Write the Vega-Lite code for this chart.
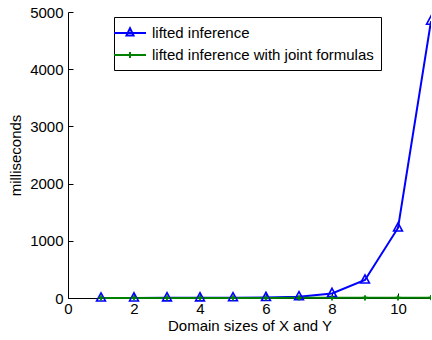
{
  "$schema": "https://vega.github.io/schema/vega-lite/v6.json",
  "autosize": "none",
  "width": 363,
  "height": 286,
  "padding": {"left": 68, "top": 12, "right": 0, "bottom": 42},
  "background": "white",
  "data": {"values": [
    {"size": 1, "ms": 1, "series": "lifted inference"},
    {"size": 2, "ms": 2, "series": "lifted inference"},
    {"size": 3, "ms": 3, "series": "lifted inference"},
    {"size": 4, "ms": 4, "series": "lifted inference"},
    {"size": 5, "ms": 5, "series": "lifted inference"},
    {"size": 6, "ms": 10, "series": "lifted inference"},
    {"size": 7, "ms": 22, "series": "lifted inference"},
    {"size": 8, "ms": 80, "series": "lifted inference"},
    {"size": 9, "ms": 315, "series": "lifted inference"},
    {"size": 10, "ms": 1225, "series": "lifted inference"},
    {"size": 11, "ms": 4840, "series": "lifted inference"},
    {"size": 1, "ms": 0.5, "series": "lifted inference with joint formulas"},
    {"size": 2, "ms": 1, "series": "lifted inference with joint formulas"},
    {"size": 3, "ms": 1, "series": "lifted inference with joint formulas"},
    {"size": 4, "ms": 1.5, "series": "lifted inference with joint formulas"},
    {"size": 5, "ms": 2, "series": "lifted inference with joint formulas"},
    {"size": 6, "ms": 2, "series": "lifted inference with joint formulas"},
    {"size": 7, "ms": 3, "series": "lifted inference with joint formulas"},
    {"size": 8, "ms": 3, "series": "lifted inference with joint formulas"},
    {"size": 9, "ms": 4, "series": "lifted inference with joint formulas"},
    {"size": 10, "ms": 4, "series": "lifted inference with joint formulas"},
    {"size": 11, "ms": 5, "series": "lifted inference with joint formulas"}
  ]},
  "config": {
    "view": {"stroke": null},
    "font": "Liberation Sans",
    "axis": {
      "domainColor": "black",
      "domainWidth": 1,
      "tickColor": "black",
      "tickSize": -5,
      "labelColor": "black",
      "labelFont": "Liberation Sans",
      "labelFontSize": 15,
      "titleFont": "Liberation Sans",
      "titleFontSize": 15,
      "titleFontWeight": "normal",
      "titleColor": "black",
      "grid": false,
      "format": "d"
    },
    "legend": {
      "labelFont": "Liberation Sans",
      "labelFontSize": 15,
      "labelColor": "black",
      "labelLimit": 400
    }
  },
  "layer": [
    {
      "transform": [{"filter": "datum.series === 'lifted inference'"}],
      "mark": {"type": "line", "strokeWidth": 2, "color": "#0000ff", "clip": false},
      "encoding": {
        "x": {"field": "size", "type": "quantitative",
              "scale": {"domain": [0, 11], "nice": false},
              "axis": {"orient": "bottom", "values": [0, 2, 4, 6, 8, 10], "title": "Domain sizes of X and Y", "labelPadding": 8, "titlePadding": 2, "labelFlush": false}},
        "y": {"field": "ms", "type": "quantitative",
              "scale": {"domain": [0, 5000], "nice": false},
              "axis": {"orient": "left", "values": [0, 1000, 2000, 3000, 4000, 5000], "title": "milliseconds", "labelPadding": 10, "titlePadding": 6, "labelFlush": false}}
      }
    },
    {
      "layer": [
        {
          "transform": [{"filter": "datum.series !== 'lifted inference'"}],
          "mark": {"type": "line", "strokeWidth": 2, "color": "#008000", "clip": false},
          "encoding": {
            "x": {"field": "size", "type": "quantitative",
                  "axis": {"orient": "top", "values": [0, 2, 4, 6, 8, 10], "labels": false, "title": null}},
            "y": {"field": "ms", "type": "quantitative",
                  "axis": {"orient": "right", "values": [0, 1000, 2000, 3000, 4000, 5000], "labels": false, "title": null}}
          }
        },
        {
          "transform": [{"filter": "datum.series === 'lifted inference'"}],
          "mark": {"type": "point", "filled": false, "strokeWidth": 1.6, "opacity": 1, "color": "#0000ff", "shape": "M0,-1L0.866,0.6H-0.866Z", "size": 105, "clip": false},
          "encoding": {
            "x": {"field": "size", "type": "quantitative", "axis": null},
            "y": {"field": "ms", "type": "quantitative", "axis": null}
          }
        },
        {
          "transform": [{"filter": "datum.series !== 'lifted inference'"}],
          "mark": {"type": "point", "filled": false, "strokeWidth": 1.8, "opacity": 1, "color": "#008000", "shape": "M-1,0H1M0,-1V1", "size": 28, "clip": false},
          "encoding": {
            "x": {"field": "size", "type": "quantitative", "axis": null},
            "y": {"field": "ms", "type": "quantitative", "axis": null}
          }
        },
        {
          "transform": [{"filter": "datum.ms < 0"}],
          "mark": {"type": "point", "filled": false, "strokeWidth": 2, "opacity": 1},
          "encoding": {
            "x": {"field": "size", "type": "quantitative", "axis": null},
            "y": {"field": "ms", "type": "quantitative", "axis": null},
            "color": {"field": "series", "type": "nominal",
                      "scale": {"domain": ["lifted inference", "lifted inference with joint formulas"], "range": ["#0000ff", "#008000"]},
                      "legend": {"orient": "none", "legendX": 46, "legendY": 5, "title": null,
                                 "strokeColor": "black", "fillColor": "white", "padding": 7,
                                 "symbolSize": 256, "symbolStrokeWidth": 2, "symbolOpacity": 1, "labelOffset": 13, "rowPadding": 5}},
            "shape": {"field": "series", "type": "nominal",
                      "scale": {"domain": ["lifted inference", "lifted inference with joint formulas"], "range": ["M-2,0H2M0,-0.6L0.44,0.3H-0.44Z", "M-2,0H2M0,-0.38V0.38"]},
                      "legend": {"orient": "none", "legendX": 46, "legendY": 5, "title": null,
                                 "strokeColor": "black", "fillColor": "white", "padding": 7,
                                 "symbolSize": 256, "symbolStrokeWidth": 2, "symbolOpacity": 1, "labelOffset": 13, "rowPadding": 5}}
          }
        }
      ]
    }
  ],
  "resolve": {"axis": {"x": "independent", "y": "independent"}}
}
